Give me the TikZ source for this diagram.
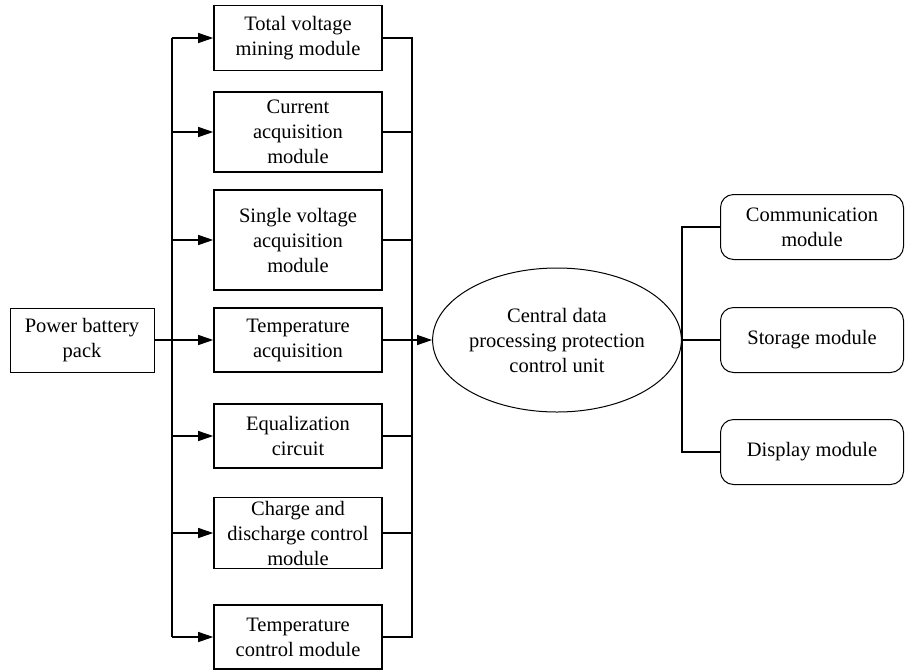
\documentclass[tikz,border=0pt]{standalone}
\usepackage{fontspec}
\setmainfont{Liberation Serif}
\newfontfamily\diagfont{Liberation Serif}
\usetikzlibrary{arrows.meta, shapes.geometric}

\begin{document}
\begin{tikzpicture}[x=1pt, y=-1pt,
  txt/.style={align=center, inner sep=0pt, font=\diagfont\fontsize{20.5}{25}\selectfont},
  module/.style={txt, draw, line width=1.6pt, minimum width=168pt},
  source/.style={txt, draw, line width=1pt, minimum width=144pt, minimum height=64pt},
  unit/.style={txt, draw, ellipse, line width=1pt, minimum width=221pt, minimum height=144pt},
  peripheral/.style={txt, draw, rounded corners=13pt, line width=1pt, minimum width=183pt, minimum height=65pt},
  wire/.style={line width=1.1pt},
  arr/.style={-{Triangle[length=15pt,width=10pt]}, line width=1.1pt}
]
  \useasboundingbox (0,0) rectangle (905,670);

  \node[source] (power) at (82,340) {Power battery\\pack};

  \node[module, minimum height=65pt]  (totalv)  at (298,38)  {Total voltage\\mining module};
  \node[module, minimum height=80pt]  (current) at (298,132) {Current\\acquisition\\module};
  \node[module, minimum height=100pt] (singlev) at (298,240) {Single voltage\\acquisition\\module};
  \node[module, minimum height=64pt]  (tempacq) at (298,340) {Temperature\\acquisition};
  \node[module, minimum height=64pt]  (equal)   at (298,436) {Equalization\\circuit};
  \node[module, minimum height=71pt]  (charge)  at (298,533) {Charge and\\discharge control\\module};
  \node[module, minimum height=64pt]  (tempctl) at (298,637) {Temperature\\control module};

  \node[unit] (cpu) at (557,340) {Central data\\processing protection\\control unit};

  \node[peripheral] (comm)    at (812,227) {Communication\\module};
  \node[peripheral] (storage) at (812,340) {Storage module};
  \node[peripheral] (display) at (812,452) {Display module};

  \coordinate (lbus) at (172,340);
  \coordinate (rbus) at (412,340);
  \coordinate (obus) at (682,340);

  % battery pack to the acquisition modules
  \draw[wire] (power.east) -- (lbus);
  \draw[wire] (lbus |- totalv.west) -- (lbus |- tempctl.west);
  \draw[arr] (lbus |- totalv.west)  -- (totalv.west);
  \draw[arr] (lbus |- current.west) -- (current.west);
  \draw[arr] (lbus |- singlev.west) -- (singlev.west);
  \draw[arr] (lbus |- tempacq.west) -- (tempacq.west);
  \draw[arr] (lbus |- equal.west)   -- (equal.west);
  \draw[arr] (lbus |- charge.west)  -- (charge.west);
  \draw[arr] (lbus |- tempctl.west) -- (tempctl.west);

  % modules to the central unit
  \draw[wire] (totalv.east) -- (rbus |- totalv.east) -- (rbus |- tempctl.east) -- (tempctl.east);
  \draw[wire] (current.east) -- (rbus |- current.east);
  \draw[wire] (singlev.east) -- (rbus |- singlev.east);
  \draw[wire] (equal.east)   -- (rbus |- equal.east);
  \draw[wire] (charge.east)  -- (rbus |- charge.east);
  \draw[arr] (tempacq.east) -- (cpu.west);

  % central unit to the peripherals
  \draw[wire] (cpu.east) -- (storage.west);
  \draw[wire] (comm.west) -- (obus |- comm.west) -- (obus |- display.west) -- (display.west);
\end{tikzpicture}
\end{document}
